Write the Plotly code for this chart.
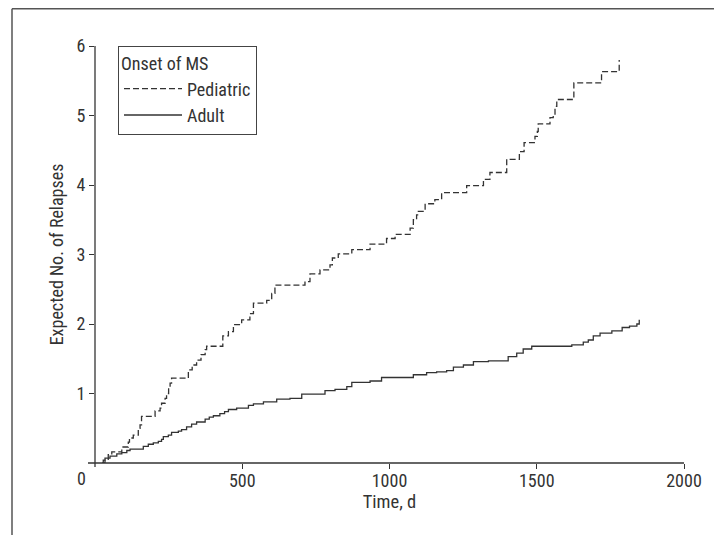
import plotly.graph_objects as go

# ---- data ----
ped_time = [25, 28, 45, 57, 91, 113, 117, 130, 147, 153, 158, 204, 221, 226, 238, 243, 250, 255, 260,
            317, 330, 345, 360, 374, 379, 434, 453, 470, 498, 526, 538, 583, 600, 611, 713, 730, 764,
            798, 806, 826, 872, 934, 990, 1019, 1070, 1081, 1092, 1098, 1121, 1154, 1177, 1262, 1319,
            1341, 1398, 1441, 1457, 1494, 1502, 1505, 1545, 1556, 1562, 1568, 1626, 1720, 1780]
ped_value = [0, 0.04, 0.12, 0.16, 0.23, 0.30, 0.36, 0.40, 0.50, 0.55, 0.67, 0.75, 0.79, 0.86, 0.93, 1.00,
             1.08, 1.15, 1.22, 1.34, 1.41, 1.48, 1.56, 1.63, 1.68, 1.83, 1.89, 1.99, 2.06, 2.15, 2.30,
             2.34, 2.44, 2.56, 2.61, 2.72, 2.78, 2.85, 2.95, 3.01, 3.07, 3.15, 3.23, 3.29, 3.38, 3.50,
             3.57, 3.62, 3.73, 3.79, 3.89, 3.99, 4.08, 4.18, 4.37, 4.48, 4.61, 4.70, 4.77, 4.88, 4.97,
             5.01, 5.13, 5.23, 5.47, 5.63, 5.80]

adult_time = [25, 34, 51, 74, 91, 108, 119, 164, 181, 198, 215, 226, 232, 249, 260, 283, 294, 311, 328,
              345, 374, 388, 402, 424, 440, 453, 481, 521, 538, 572, 617, 662, 702, 781, 815, 855, 872,
              934, 973, 1081, 1126, 1160, 1194, 1217, 1251, 1285, 1336, 1403, 1432, 1454, 1483, 1619,
              1658, 1675, 1692, 1715, 1755, 1790, 1815, 1840, 1848]
adult_value = [0, 0.07, 0.10, 0.13, 0.15, 0.18, 0.20, 0.24, 0.27, 0.29, 0.31, 0.34, 0.38, 0.40, 0.44,
               0.46, 0.48, 0.52, 0.56, 0.59, 0.63, 0.66, 0.68, 0.71, 0.74, 0.77, 0.79, 0.83, 0.85, 0.88,
               0.92, 0.93, 0.99, 1.04, 1.06, 1.10, 1.16, 1.18, 1.23, 1.27, 1.30, 1.31, 1.33, 1.38, 1.41,
               1.46, 1.47, 1.53, 1.58, 1.64, 1.68, 1.70, 1.74, 1.77, 1.83, 1.87, 1.90, 1.95, 1.97, 2.00,
               2.06]

x_ticks = [500, 1000, 1500, 2000]
x_tick_labels = ["500", "1000", "1500", "2000"]
y_ticks = [1, 2, 3, 4, 5, 6]
y_tick_labels = ["1", "2", "3", "4", "5", "6"]
origin_label = "0"
series_names = ["Pediatric", "Adult"]
legend_title = "Onset of MS"
x_title = "Time, d"
y_title = "Expected No. of Relapses"

FONT = "Roboto Condensed, Noto Sans Condensed, DejaVu Sans Condensed, sans-serif"
INK = "#333333"

# the page body adds an 8px offset, so the figure is 8px smaller on each side
W, H = 714, 527
ML, MT, MR, MB = 87, 38, 38, 72
PW, PH = W - ML - MR, H - MT - MB


def px_x(dx):
    return dx / PW


def px_y(dy):
    return dy / PH


fig = go.Figure()
fig.add_trace(go.Scatter(x=ped_time, y=ped_value, mode="lines", name=series_names[0],
                         line=dict(shape="hv", color=INK, width=1.3, dash="6px,3px")))
fig.add_trace(go.Scatter(x=adult_time, y=adult_value, mode="lines", name=series_names[1],
                         line=dict(shape="hv", color=INK, width=1.3)))

fig.update_layout(
    width=W, height=H,
    margin=dict(l=ML, r=MR, t=MT, b=MB, pad=0, autoexpand=False),
    paper_bgcolor="white", plot_bgcolor="white",
    font=dict(family=FONT, size=18, color="#333333"),
    showlegend=True,
    legend=dict(x=px_x(23), y=1, xanchor="left", yanchor="top",
                bordercolor="#444444", borderwidth=1, bgcolor="white",
                font=dict(size=18), title=dict(text=legend_title, font=dict(size=18)),
                itemwidth=58, tracegroupgap=0),
    xaxis=dict(range=[0, 2000], tickvals=x_ticks, ticktext=x_tick_labels,
               ticks="outside", ticklen=5, tickcolor=INK, tickwidth=1.2,
               tickfont=dict(size=18), ticklabelstandoff=-4,
               showgrid=False, zeroline=False, showline=False,
               title=dict(text=x_title, standoff=3, font=dict(size=18.5))),
    yaxis=dict(range=[0, 6], tickvals=y_ticks, ticktext=y_tick_labels,
               ticks="outside", ticklen=5, tickcolor=INK, tickwidth=1.2,
               tickfont=dict(size=18),
               showgrid=False, zeroline=False, showline=False,
               title=dict(text=y_title, standoff=8, font=dict(size=18))),
    shapes=[
        dict(type="line", xref="paper", yref="paper", x0=-px_x(7), x1=1, y0=0, y1=0,
             line=dict(color=INK, width=1.3)),
        dict(type="line", xref="paper", yref="paper", x0=0, x1=0, y0=-px_y(4), y1=1,
             line=dict(color=INK, width=1.3)),
        dict(type="line", xref="paper", yref="paper", x0=-px_x(83), x1=1 + px_x(40),
             y0=1 + px_y(37.2), y1=1 + px_y(37.2), line=dict(color="#555555", width=1.5)),
        dict(type="line", xref="paper", yref="paper", x0=-px_x(83), x1=-px_x(83),
             y0=-px_y(80), y1=1 + px_y(37.2), line=dict(color="#555555", width=1.5)),
    ],
    annotations=[
        dict(text=origin_label, xref="paper", yref="paper", x=-px_x(14), y=-px_y(15),
             xanchor="center", yanchor="middle", showarrow=False, font=dict(size=18)),
    ],
)

fig.write_html("out.html")
